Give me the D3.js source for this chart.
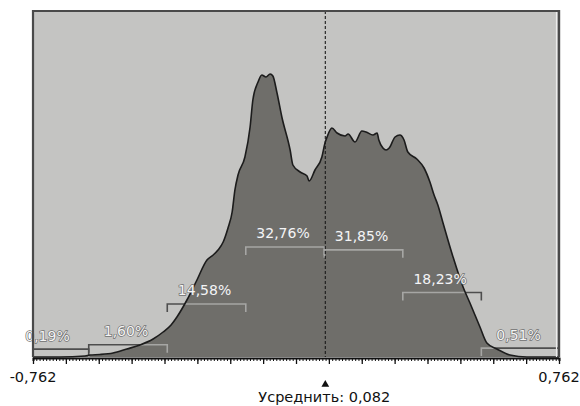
<!DOCTYPE html>
<html><head><meta charset="utf-8">
<script src="https://cdn.jsdelivr.net/npm/d3@7"></script>
<style>
html,body{margin:0;padding:0;background:#fff;}
svg{display:block;}
text{font-family:"DejaVu Sans",Verdana,sans-serif;}
</style></head>
<body>
<script>
// ---- data ----
const domainX = [-0.762, 0.762];
const densityX = [-0.762,-0.684,-0.611,-0.597,-0.568,-0.530,-0.490,-0.452,-0.414,-0.385,-0.362,-0.345,-0.316,-0.287,-0.258,-0.240,-0.226,-0.211,-0.197,-0.185,-0.177,-0.168,-0.148,-0.133,-0.125,-0.110,-0.099,-0.087,-0.075,-0.067,-0.055,-0.041,-0.017,-0.009,0.012,0.032,0.038,0.055,0.075,0.084,0.090,0.104,0.119,0.142,0.151,0.171,0.191,0.203,0.223,0.235,0.240,0.252,0.261,0.270,0.287,0.301,0.313,0.324,0.350,0.371,0.388,0.400,0.411,0.426,0.455,0.484,0.504,0.533,0.553,0.582,0.620,0.669,0.762];
const densityY = [0,0,1,2,2.5,4,8,12,18,25,32,40,57,77,97,102,107,115,129,145,167,182,200,230,257,275,282,280,283,281,264,240,207,192,185,181,176,187,200,214,220,229,224,221,223,215,226,225,222,224,217,209,207,209,220,222,217,205,198,189,175,162,152,134,100,70,54,30,14,8,2,0,0];
const meanValue = 0.082;
const sdValue = 0.2275;
const bandStartK = [-4,-3,-2,-1,0,1,2];
const bandPercents = [0.19,1.60,14.58,32.76,31.85,18.23,0.51];
const bandLabels = ["0,19%","1,60%","14,58%","32,76%","31,85%","18,23%","0,51%"];
const tickLabels = ["-0,762","0,762"];
const meanLabel = "Усреднить: 0,082";

// ---- layout ----
const W = 580, H = 406;
const L = 33, R = 559, T = 11, B = 357;
const svg = d3.select("body").append("svg").attr("width", W).attr("height", H);

const x = d3.scaleLinear().domain(domainX).range([L, R]);
const y = d3.scaleLinear().domain([0, 346]).range([B, T]);
const bracketY = d3.scaleLinear().domain([0, 100]).range([B - 7.3, B - 7.3 - 313.5]);

// background
svg.append("rect").attr("x", L).attr("y", T).attr("width", R - L).attr("height", B - T).attr("fill", "#c4c4c2");

const pts = densityX.map((v, i) => [v, densityY[i]]);
const area = d3.area().x(d => x(d[0])).y0(B).y1(d => y(d[1])).curve(d3.curveMonotoneX);
const line = d3.line().x(d => x(d[0])).y(d => y(d[1])).curve(d3.curveMonotoneX);

svg.append("clipPath").attr("id", "areaClip").append("path").attr("d", area(pts));

// bands
const bands = bandStartK.map((k, i) => {
  const a = meanValue + k * sdValue, b = meanValue + (k + 1) * sdValue;
  return {a, b, ca: Math.max(a, domainX[0]), cb: Math.min(b, domainX[1]), p: bandPercents[i], label: bandLabels[i]};
});
function bracketPath(d) {
  const x0 = x(d.ca), x1 = x(d.cb), yy = bracketY(d.p);
  return `M${x0},${yy + 8}V${yy}H${x1}V${yy + 8}`;
}
// dark brackets (visible over light bg)
svg.append("g").selectAll("path").data(bands).join("path")
  .attr("d", bracketPath).attr("fill", "none").attr("stroke", "#4e4e4e").attr("stroke-width", 1.6);

// area
svg.append("path").attr("d", area(pts)).attr("fill", "#6f6e6a");

// light brackets (clipped to area)
svg.append("g").attr("clip-path", "url(#areaClip)").selectAll("path").data(bands).join("path")
  .attr("d", bracketPath).attr("fill", "none").attr("stroke", "#a6a6a4").attr("stroke-width", 1.6);

// outline
svg.append("path").attr("d", line(pts)).attr("fill", "none").attr("stroke", "#1c1c1c").attr("stroke-width", 1.6);

// mean dashed line
svg.append("line").attr("x1", x(meanValue) + 1).attr("x2", x(meanValue) + 1).attr("y1", T).attr("y2", B)
  .attr("stroke", "#1a1a1a").attr("stroke-width", 1.1).attr("stroke-dasharray", "3,2");

// band labels
svg.append("g").selectAll("text").data(bands).join("text")
  .attr("x", d => x((d.a + d.b) / 2) - 2).attr("y", d => bracketY(d.p) - 8.5)
  .attr("text-anchor", "middle").attr("font-size", "14px")
  .attr("fill", "#f4f4f4").attr("stroke", "#707070").attr("stroke-width", 1.4)
  .attr("paint-order", "stroke").text(d => d.label);

// frame
svg.append("path").attr("d", `M${L},${B}V${T}H${R}`).attr("fill", "none").attr("stroke", "#4a4a4a").attr("stroke-width", 2.2);
svg.append("line").attr("x1", R - 2.5).attr("x2", R - 2.5).attr("y1", T + 1).attr("y2", B).attr("stroke", "#ececec").attr("stroke-width", 1.2);
svg.append("line").attr("x1", R).attr("x2", R).attr("y1", T - 1).attr("y2", B).attr("stroke", "#4a4a4a").attr("stroke-width", 2.4);

// axis
const step = (domainX[1] - domainX[0]) / 160;
const minorTicks = d3.range(161).map(i => domainX[0] + i * step);
const majorTicks = d3.range(17).map(i => domainX[0] + i * step * 10);
const gMinor = svg.append("g").attr("transform", `translate(0,${B + 1})`)
  .call(d3.axisBottom(x).tickValues(minorTicks).tickSize(3).tickFormat(""));
gMinor.select(".domain").attr("stroke", "#111").attr("stroke-width", 2);
gMinor.selectAll(".tick line").attr("stroke", "#111");
const gMajor = svg.append("g").attr("transform", `translate(0,${B + 1})`)
  .call(d3.axisBottom(x).tickValues(majorTicks).tickSize(6).tickFormat(""));
gMajor.select(".domain").remove();
gMajor.selectAll(".tick line").attr("stroke", "#111").attr("stroke-width", 1.3);

// end labels
svg.append("g").selectAll("text").data(domainX).join("text")
  .attr("x", d => x(d)).attr("y", 382).attr("text-anchor", "middle")
  .attr("font-size", "14.5px").attr("fill", "#111").text((d, i) => tickLabels[i]);

// mean marker and label
svg.append("path").attr("d", d3.symbol(d3.symbolTriangle, 26)())
  .attr("transform", `translate(${x(meanValue) + 1},384.5)`).attr("fill", "#111");
svg.append("text").attr("x", x(meanValue)).attr("y", 402).attr("text-anchor", "middle")
  .attr("font-size", "14.5px").attr("fill", "#111").text(meanLabel);
</script>
</body></html>
